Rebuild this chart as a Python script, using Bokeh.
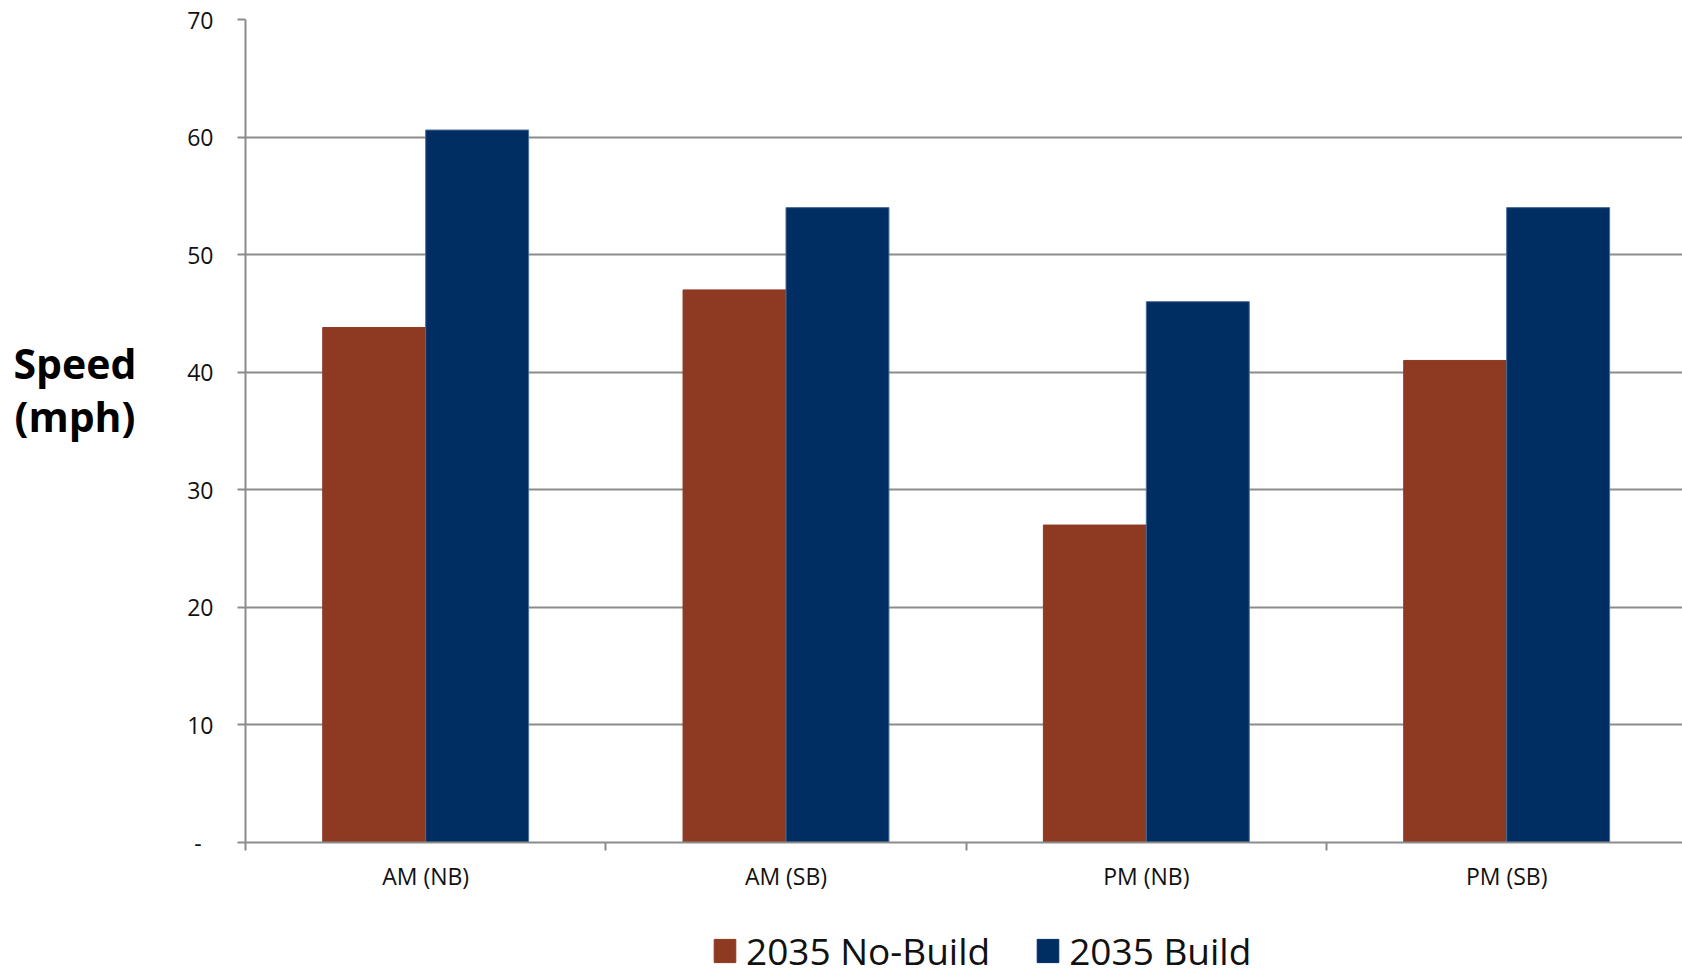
from bokeh.plotting import figure
from bokeh.models import (Range1d, FixedTicker, Legend, LegendItem, Div)
from bokeh.layouts import row, column
from bokeh.embed import file_html
from bokeh.resources import INLINE

# ---- data ----
categories = ["AM (NB)", "AM (SB)", "PM (NB)", "PM (SB)"]
no_build = [43.8, 47, 27, 41]
build = [60.6, 54, 46, 54]
series_names = ["2035 No-Build", "2035 Build"]
y_ticks = [0, 10, 20, 30, 40, 50, 60, 70]
y_title_lines = ["Speed", "(mph)"]

ORANGE = "#8E3922"
NAVY = "#002E62"
GRID = "#8c8c8c"
FONT = "Open Sans"

bar_w = 1 / 3.5  # Excel gap width 150%
centers = [i + 0.5 for i in range(len(categories))]
x_nb = [c - bar_w / 2 for c in centers]
x_b = [c + bar_w / 2 for c in centers]

DIV_W = 160
MAIN_H = 900
LEG_H = 976 - MAIN_H

p = figure(width=1682 - DIV_W, height=MAIN_H, output_backend="svg", toolbar_location=None,
           x_range=Range1d(0, 3.988), y_range=Range1d(0, 70),
           min_border_left=245 - DIV_W, min_border_right=0, min_border_top=19,
           min_border_bottom=MAIN_H - 842)
p.outline_line_color = None
p.background_fill_color = "white"
p.border_fill_color = "white"

p.vbar(x=x_nb, top=no_build, width=bar_w, fill_color=ORANGE,
       line_color=ORANGE, line_width=1)
p.vbar(x=x_b, top=build, width=bar_w, fill_color=NAVY,
       line_color="#4a6f9a", line_width=1)

# grid
p.xgrid.grid_line_color = None
p.ygrid.ticker = FixedTicker(ticks=y_ticks[1:])
p.ygrid.grid_line_color = GRID
p.ygrid.grid_line_width = 2
p.ygrid.level = "underlay"

# y axis
ya = p.yaxis[0]
ya.ticker = FixedTicker(ticks=y_ticks)
ya.major_label_overrides = {0: "-  "}
ya.axis_line_color = GRID
ya.axis_line_width = 2
ya.major_tick_line_color = GRID
ya.major_tick_line_width = 2
ya.major_tick_out = 8
ya.major_tick_in = 0
ya.minor_tick_line_color = None
ya.major_label_standoff = 24
ya.major_label_text_font = FONT
ya.major_label_text_font_size = "23px"
ya.major_label_text_color = "#111111"

# x axis
xa = p.xaxis[0]
xa.ticker = FixedTicker(ticks=centers, minor_ticks=[0, 1, 2, 3])
xa.major_label_overrides = {c: lab for c, lab in zip(centers, categories)}
xa.axis_line_color = GRID
xa.axis_line_width = 2
xa.major_tick_line_color = None
xa.major_tick_out = 0
xa.major_tick_in = 0
xa.minor_tick_line_color = GRID
xa.minor_tick_line_width = 2
xa.minor_tick_out = 8
xa.minor_tick_in = 0
xa.major_label_standoff = 9
xa.major_label_text_font = FONT
xa.major_label_text_font_size = "23px"
xa.major_label_text_color = "#111111"

# y title (horizontal, two lines) to the left of the chart
title_html = (
    "<div style=\"font-family:'Open Sans';font-weight:bold;font-size:41px;"
    "line-height:53px;text-align:center;width:150px;padding-top:337px;color:black;\">"
    + "<br>".join(y_title_lines) + "</div>"
)
ytitle = Div(text=title_html, width=DIV_W, height=MAIN_H, margin=0)

# legend strip below the chart (series drawn out of view; only legend shows)
lf = figure(width=1682, height=LEG_H, output_backend="svg", toolbar_location=None,
            x_range=Range1d(100, 101), y_range=Range1d(100, 101),
            x_axis_location=None, y_axis_location=None,
            min_border_left=0, min_border_right=0, min_border_top=0,
            min_border_bottom=0)
lf.outline_line_color = None
lf.xgrid.visible = False
lf.ygrid.visible = False
lr1 = lf.vbar(x=x_nb, top=no_build, width=bar_w, fill_color=ORANGE, line_color=ORANGE)
lr2 = lf.vbar(x=x_b, top=build, width=bar_w, fill_color=NAVY, line_color=NAVY)
legend = Legend(items=[LegendItem(label=series_names[0], renderers=[lr1]),
                       LegendItem(label=series_names[1], renderers=[lr2])],
                orientation="horizontal", location=(711, 0),
                label_text_font=FONT, label_text_font_size="37px",
                label_text_color="#111111", glyph_width=27, glyph_height=29,
                label_standoff=8, spacing=44, padding=0, margin=0,
                border_line_color=None, background_fill_alpha=0)
lf.add_layout(legend, "center")

layout = column(row(ytitle, p, spacing=0), lf, spacing=0)
open("out.html", "w").write(file_html(layout, INLINE))
